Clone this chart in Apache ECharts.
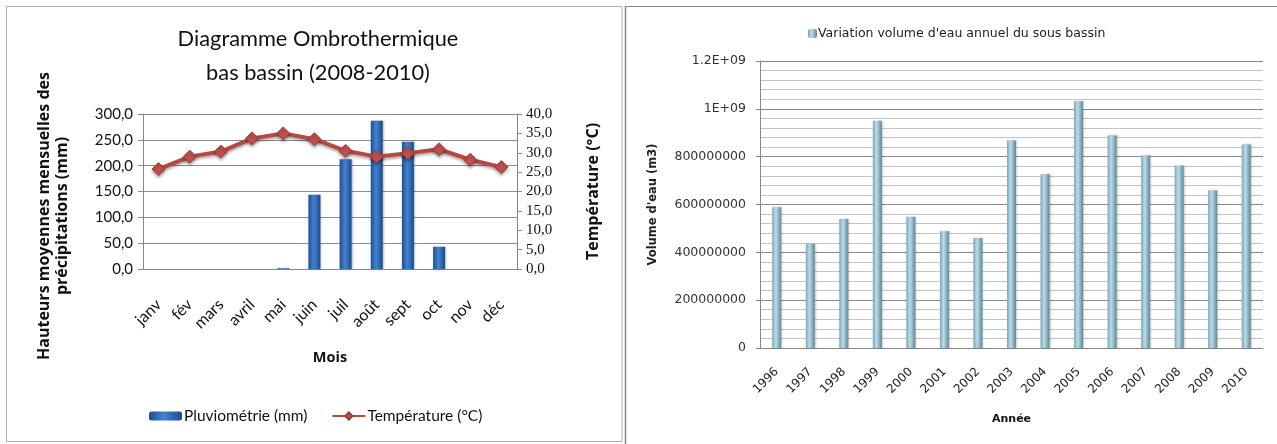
<!DOCTYPE html>
<html>
<head>
<meta charset="utf-8">
<script src="https://cdn.jsdelivr.net/npm/echarts@6/dist/echarts.min.js"></script>
<style>
  html, body { margin: 0; padding: 0; background: #fff; }
  #chart { width: 1277px; height: 444px; }
</style>
</head>
<body>
<div id="chart"></div>
<script>
// Monthly climate of the lower basin (2008-2010)
const months = ['janv', 'fév', 'mars', 'avril', 'mai', 'juin', 'juil', 'août', 'sept', 'oct', 'nov', 'déc'];
const rainfall = [0, 0, 0, 0, 1.5, 143.5, 212.5, 287, 246.5, 43, 0, 0];
const temperature = [25.8, 29.0, 30.3, 33.7, 35.0, 33.5, 30.5, 29.0, 29.9, 30.9, 28.2, 26.3];

// Annual water volume of the sub-basin
const years = ['1996', '1997', '1998', '1999', '2000', '2001', '2002', '2003', '2004', '2005', '2006', '2007', '2008', '2009', '2010'];
const volumes = [588000000, 436000000, 539000000, 950000000, 549000000, 488000000, 460000000, 868000000,
  726000000, 1032000000, 889000000, 805000000, 763000000, 659000000, 851000000];

const rainAxisName = 'Hauteurs moyennes mensuelles des\nprécipitations (mm)';

const SANS = 'Lato, "Open Sans", sans-serif';
const NAME_FONT = '"Open Sans", "Noto Sans", sans-serif';
const RIGHT_FONT = '"DejaVu Sans", Verdana, sans-serif';

const chart = echarts.init(document.getElementById('chart'), null, { renderer: 'canvas' });

const commaFmt = v => v.toFixed(1).replace('.', ',');
const volFmt = v => {
  if (v === 1200000000) return '1.2E+09';
  if (v === 1000000000) return '1E+09';
  return String(v);
};

const rainColor = new echarts.graphic.LinearGradient(0, 0, 1, 0, [
  { offset: 0, color: '#1d4f93' },
  { offset: 0.45, color: '#4383d2' },
  { offset: 1, color: '#1c4a8a' }
]);
const volColor = new echarts.graphic.LinearGradient(0, 0, 1, 0, [
  { offset: 0, color: '#7ea5b6' },
  { offset: 0.4, color: '#b9dcea' },
  { offset: 1, color: '#5f8797' }
]);

chart.setOption({
  backgroundColor: '#ffffff',
  animation: false,
  title: {
    text: 'Diagramme Ombrothermique\nbas bassin (2008-2010)',
    left: 313,
    top: 17,
    textAlign: 'center',
    textStyle: {
      fontFamily: SANS,
      fontSize: 21.8,
      fontWeight: 'normal',
      color: '#111',
      lineHeight: 34
    }
  },
  legend: [
    {
      left: 144,
      top: 403,
      itemWidth: 33,
      itemHeight: 9,
      itemGap: 24,
      textStyle: { fontFamily: SANS, fontSize: 15.5, color: '#111', padding: [0, 0, 0, -3] },
      data: ['Pluviométrie (mm)', 'Température (°C)']
    },
    {
      left: 803,
      top: 22,
      itemWidth: 9,
      itemHeight: 9,
      textStyle: { fontFamily: RIGHT_FONT, fontSize: 12.5, color: '#222', padding: [0, 0, 0, -4] },
      data: ["Variation volume d'eau annuel du sous bassin"]
    }
  ],
  grid: [
    { left: 143, right: 760, top: 114, bottom: 175 },
    { left: 760, right: 14, top: 61, bottom: 96 }
  ],
  xAxis: [
    {
      type: 'category',
      gridIndex: 0,
      data: months,
      name: 'Mois',
      nameLocation: 'middle',
      nameGap: 81,
      nameTextStyle: { fontFamily: NAME_FONT, fontSize: 14.5, fontWeight: 'bold', color: '#111' },
      axisLine: { show: true, lineStyle: { color: '#888' } },
      axisTick: { show: false },
      axisLabel: { rotate: 45, fontFamily: SANS, fontSize: 16, color: '#111', margin: 33, interval: 0 }
    },
    {
      type: 'category',
      gridIndex: 1,
      data: years,
      name: 'Année',
      nameLocation: 'middle',
      nameGap: 66,
      nameTextStyle: { fontFamily: RIGHT_FONT, fontSize: 11, fontWeight: 'bold', color: '#111' },
      axisLine: { show: true, lineStyle: { color: '#888' } },
      axisTick: { show: false },
      axisLabel: { rotate: 45, fontFamily: RIGHT_FONT, fontSize: 12, color: '#222', margin: 22, interval: 0 }
    }
  ],
  yAxis: [
    {
      type: 'value',
      gridIndex: 0,
      min: 0,
      max: 300,
      interval: 50,
      axisLine: { show: true, lineStyle: { color: '#888' } },
      axisTick: { show: true, length: 5, lineStyle: { color: '#888' } },
      axisLabel: { formatter: commaFmt, fontFamily: SANS, fontSize: 15, color: '#111', margin: 10 },
      splitLine: { show: true, lineStyle: { color: '#8c8c8c' } }
    },
    {
      type: 'value',
      gridIndex: 0,
      position: 'right',
      min: 0,
      max: 40,
      interval: 5,
      name: 'Température (°C)',
      nameLocation: 'middle',
      nameGap: 68,
      nameTextStyle: { fontFamily: NAME_FONT, fontSize: 16, fontWeight: 'bold', color: '#111' },
      axisLine: { show: true, lineStyle: { color: '#888' } },
      axisTick: { show: true, length: 5, lineStyle: { color: '#888' } },
      axisLabel: { formatter: commaFmt, fontFamily: '"Liberation Serif", serif', fontSize: 15, color: '#111', margin: 9 },
      splitLine: { show: false }
    },
    {
      type: 'value',
      gridIndex: 1,
      min: 0,
      max: 1200000000,
      interval: 200000000,
      name: "Volume d'eau (m3)",
      nameLocation: 'middle',
      nameGap: 101,
      nameTextStyle: { fontFamily: RIGHT_FONT, fontSize: 11.5, fontWeight: 'bold', color: '#222' },
      axisLine: { show: true, lineStyle: { color: '#888' } },
      axisTick: { show: true, length: 4, lineStyle: { color: '#888' } },
      axisLabel: { formatter: volFmt, fontFamily: RIGHT_FONT, fontSize: 12.5, color: '#333', margin: 14 },
      splitLine: { show: true, lineStyle: { color: '#8a8a8a' } },
      minorTick: { show: false, splitNumber: 5 },
      minorSplitLine: { show: true, lineStyle: { color: '#c4c4c4' } }
    }
  ],
  series: [
    {
      name: 'Pluviométrie (mm)',
      type: 'bar',
      xAxisIndex: 0,
      yAxisIndex: 0,
      data: rainfall,
      barWidth: 12,
      itemStyle: {
        color: rainColor,
        shadowColor: 'rgba(0,0,0,0.25)',
        shadowBlur: 2,
        shadowOffsetX: 1
      },
      z: 2
    },
    {
      name: 'Température (°C)',
      type: 'line',
      xAxisIndex: 0,
      yAxisIndex: 1,
      data: temperature,
      symbol: 'diamond',
      symbolSize: 13,
      lineStyle: {
        color: '#b94744',
        width: 4,
        shadowColor: 'rgba(0,0,0,0.35)',
        shadowBlur: 3,
        shadowOffsetY: 2
      },
      itemStyle: {
        color: '#c0504d',
        borderColor: '#a33b38',
        borderWidth: 1,
        shadowColor: 'rgba(0,0,0,0.35)',
        shadowBlur: 3,
        shadowOffsetY: 2
      },
      z: 3
    },
    {
      name: "Variation volume d'eau annuel du sous bassin",
      type: 'bar',
      xAxisIndex: 1,
      yAxisIndex: 2,
      data: volumes,
      barWidth: 9,
      itemStyle: {
        color: volColor,
        shadowColor: 'rgba(0,0,0,0.2)',
        shadowBlur: 2,
        shadowOffsetX: 1
      }
    }
  ],
  graphic: [
    {
      type: 'rect',
      shape: { x: 6.5, y: 6.5, width: 615.5, height: 435 },
      style: { fill: 'none', stroke: '#b0b0b0', lineWidth: 1 },
      silent: true
    },
    {
      type: 'line',
      shape: { x1: 625.5, y1: 6, x2: 625.5, y2: 444 },
      style: { stroke: '#888', lineWidth: 1.5 },
      silent: true
    },
    {
      type: 'line',
      shape: { x1: 625, y1: 6.5, x2: 1277, y2: 6.5 },
      style: { stroke: '#888', lineWidth: 1 },
      silent: true
    },
    {
      // rainfall axis title, two centred lines reading bottom to top
      type: 'text',
      x: 53,
      y: 216,
      rotation: Math.PI / 2,
      silent: true,
      style: {
        text: rainAxisName,
        align: 'center',
        verticalAlign: 'middle',
        fontFamily: NAME_FONT,
        fontSize: 16,
        fontWeight: 'bold',
        lineHeight: 18,
        fill: '#111'
      }
    }
  ]
});
</script>
</body>
</html>
